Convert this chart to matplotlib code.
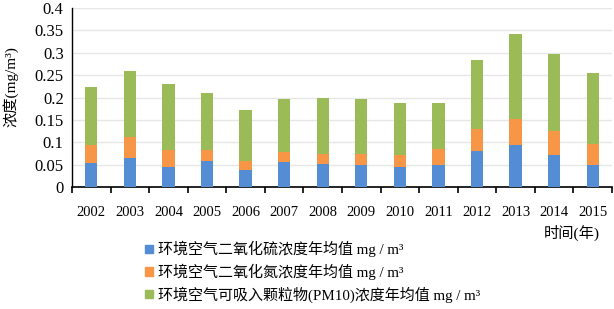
import numpy as np
import matplotlib
matplotlib.use('Agg')
import matplotlib.pyplot as plt
from matplotlib.patches import Patch

plt.rcParams['font.family'] = ['Liberation Serif', 'Noto Sans CJK SC', 'DejaVu Sans']

years = ['2002', '2003', '2004', '2005', '2006', '2007', '2008',
         '2009', '2010', '2011', '2012', '2013', '2014', '2015']
# 年均值 mg/m3
so2 = [0.054, 0.064, 0.044, 0.058, 0.038, 0.055, 0.052,
       0.049, 0.044, 0.049, 0.081, 0.093, 0.071, 0.049]
no2 = [0.040, 0.047, 0.038, 0.024, 0.020, 0.023, 0.021,
       0.025, 0.027, 0.036, 0.049, 0.059, 0.054, 0.048]
pm10 = [0.129, 0.148, 0.149, 0.127, 0.115, 0.118, 0.125,
        0.122, 0.116, 0.102, 0.154, 0.190, 0.172, 0.158]
labels = ['环境空气二氧化硫浓度年均值 mg / m³',
          '环境空气二氧化氮浓度年均值 mg / m³',
          '环境空气可吸入颗粒物(PM10)浓度年均值 mg / m³']
colors = ['#548DD4', '#F79646', '#9BBB59']

fig = plt.figure(figsize=(6.14, 3.09), dpi=100)
ax = fig.add_axes([72/614, 1-187/309, 540/614, 179/309])

x = np.arange(len(years))
w = 0.32
so2 = np.array(so2)
no2 = np.array(no2)
pm10 = np.array(pm10)
ax.bar(x, so2, w, color=colors[0], zorder=3)
ax.bar(x, no2, w, bottom=so2, color=colors[1], zorder=3)
ax.bar(x, pm10, w, bottom=so2 + no2, color=colors[2], zorder=3)

ax.set_xlim(-0.5, len(years) - 0.5)
ax.set_ylim(0, 0.4)
yt = np.arange(0, 0.401, 0.05)
ax.set_yticks(yt)
ax.set_yticklabels(['0', '0.05', '0.1', '0.15', '0.2', '0.25', '0.3', '0.35', '0.4'])
ax.tick_params(axis='y', length=0, labelsize=12, pad=6)
ax.set_xticks(x)
ax.set_xticklabels(years)
ax.set_xticks(np.arange(-0.5, len(years)), minor=True)
ax.tick_params(axis='x', which='major', length=0, labelsize=10.5, pad=14)
ax.tick_params(axis='x', which='minor', length=4, width=1.2, direction='out')
ax.grid(axis='y', color='#e6e6e6', lw=1, zorder=0)
for s in ['top', 'right']:
    ax.spines[s].set_visible(False)
ax.spines['left'].set_linewidth(1)
ax.spines['bottom'].set_linewidth(1.2)

ax.set_ylabel('浓度(mg/m³)', fontsize=11, labelpad=4)
ax.yaxis.set_label_coords(-0.1, 0.56)

fig.text(600/614, 1-233/309, '时间(年)', fontsize=11, ha='right', va='center')

handles = [Patch(color=c) for c in colors]
fig.legend(handles, labels, loc='upper left', bbox_to_anchor=(145/614, 1-241/309),
           frameon=False, fontsize=10.8, handlelength=0.5, handleheight=0.5,
           handletextpad=0.35, labelspacing=0.42, borderaxespad=0, borderpad=0)

fig.savefig('out.png', dpi=100)
